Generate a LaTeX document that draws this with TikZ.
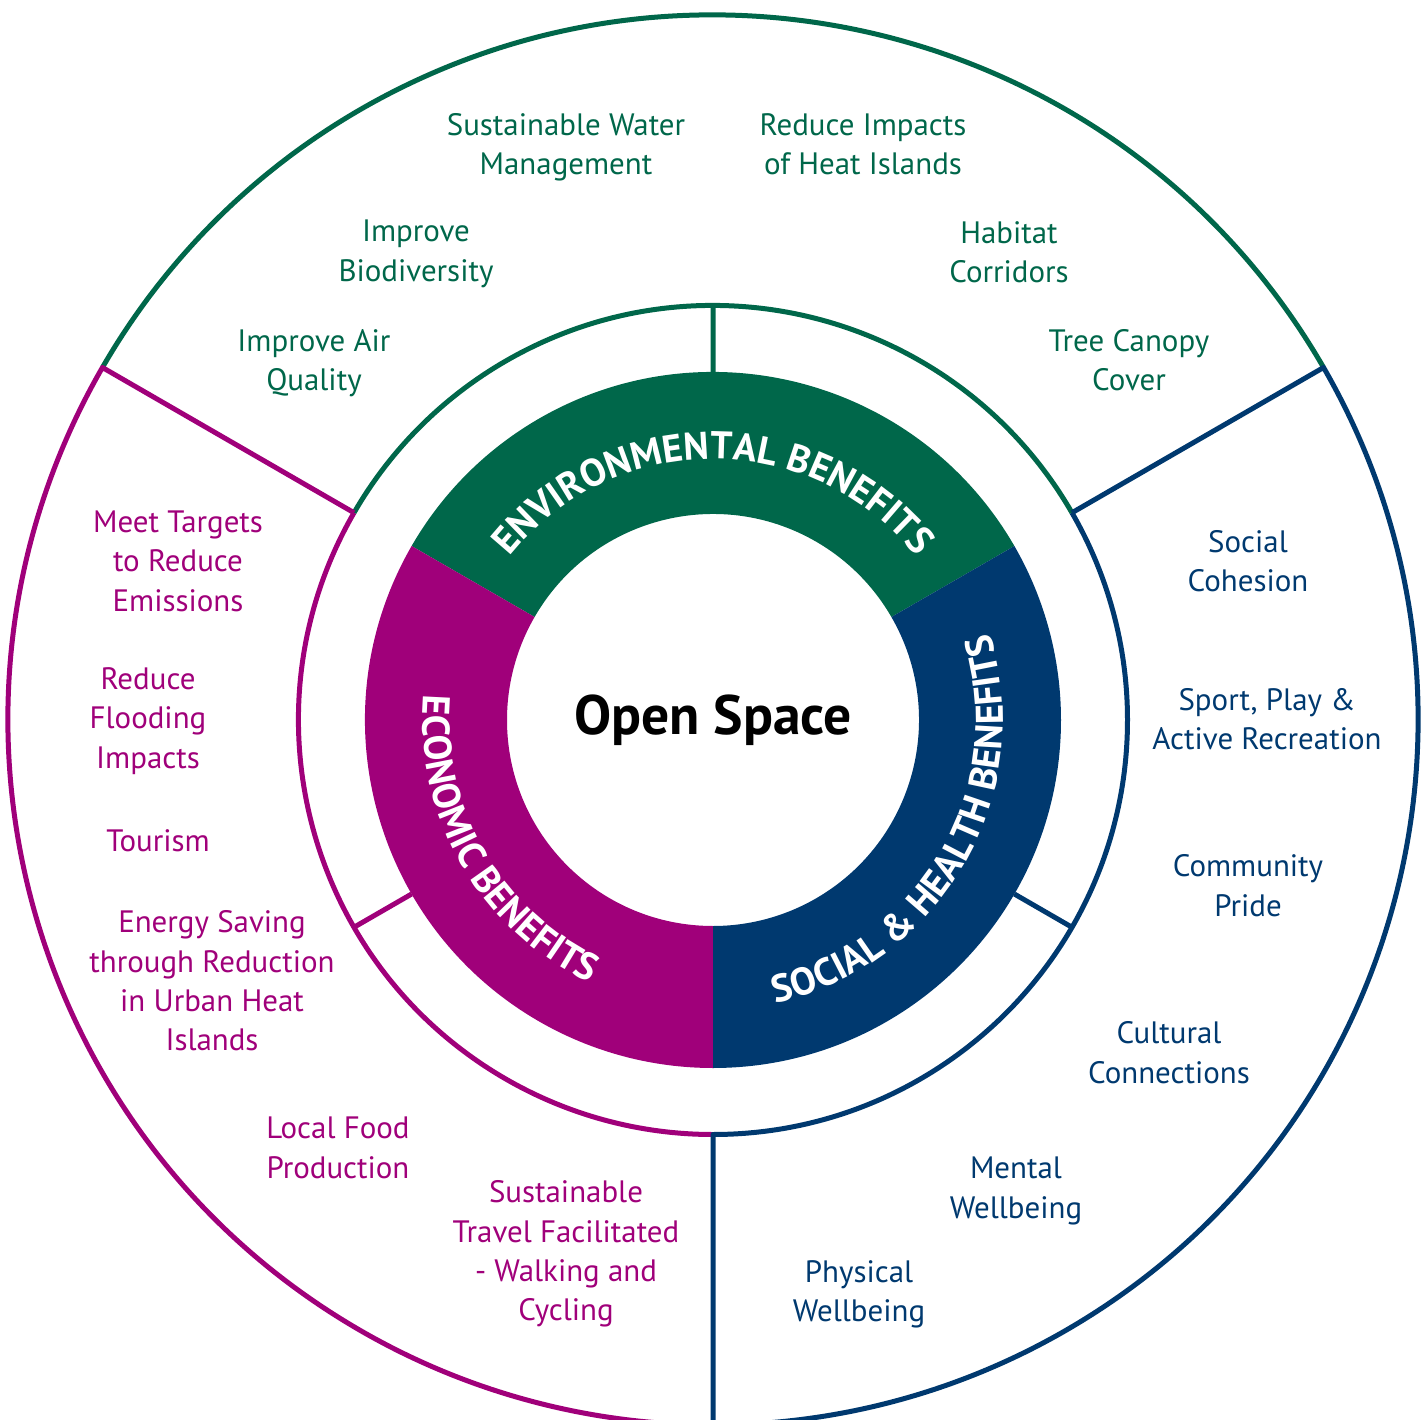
\documentclass[tikz,border=0pt]{standalone}
\usepackage{fontspec}
\setmainfont{PT Sans}
\usetikzlibrary{decorations.text}
\definecolor{envgreen}{HTML}{00674A}
\definecolor{ecomagenta}{HTML}{A0007A}
\definecolor{socblue}{HTML}{00396F}
\tikzset{
  ringline/.style ={line width=0.5mm, line join=round},
  benefit/.style  ={align=center, inner sep=0pt, font=\fontsize{8.8}{11.2}\selectfont},
  envtxt/.style   ={benefit, text=envgreen},
  ecotxt/.style   ={benefit, text=ecomagenta},
  soctxt/.style   ={benefit, text=socblue},
  ringlabel/.style={decorate, decoration={text along path, text align=center, text color=white}},
}
\newcommand{\ringfont}{\fontsize{11}{13}\selectfont\bfseries}

\begin{document}
\begin{tikzpicture}[x=0.1mm, y=0.1mm]
  \useasboundingbox (-713,-699) rectangle (715,720);
  % coloured ring, one sector per theme
  \foreach \a/\b/\col in {30/150/envgreen, 150/270/ecomagenta, -90/30/socblue}
    \fill[color=\col] (\a:348) arc[start angle=\a, end angle=\b, radius=348]
      -- (\b:206) arc[start angle=\b, end angle=\a, radius=206] -- cycle;

  % outer and middle circles with dividers
  \draw[ringline, envgreen] (30:705) arc[start angle=30, end angle=150, radius=705]
    (30:414.5) arc[start angle=30, end angle=150, radius=414.5]
    (90:348) -- (90:414.5);
  \draw[ringline, ecomagenta] (150:414.5) -- (150:705) arc[start angle=150, end angle=270, radius=705]
    (150:414.5) arc[start angle=150, end angle=270, radius=414.5]
    (210:348) -- (210:414.5);
  \draw[ringline, socblue] (30:414.5) -- (30:705) arc[start angle=30, end angle=-90, radius=705]
    -- (-90:414.5) arc[start angle=-90, end angle=30, radius=414.5]
    (-30:348) -- (-30:414.5);

  % ring titles
  \path[ringlabel, decoration={text={|\ringfont|ENVIRONMENTAL BENEFITS}}]
    (150:261) arc[start angle=150, end angle=30, radius=261];
  \path[ringlabel, decoration={text={|\ringfont|ECONOMIC BENEFITS}}]
    (150:290) arc[start angle=150, end angle=270, radius=290];
  \path[ringlabel, decoration={text={|\ringfont|SOCIAL {\&} HEALTH BENEFITS}}]
    (-90:290) arc[start angle=-90, end angle=30, radius=290];

  \node[font=\fontsize{15.8}{18}\selectfont\bfseries] (open) at (0,0) {Open Space};

  % environmental
  \node[envtxt] (water)   at (-147,573) {Sustainable Water\\Management};
  \node[envtxt] (heat)    at (150,576)  {Reduce Impacts\\of Heat Islands};
  \node[envtxt] (biodiv)  at (-297,466) {Improve\\Biodiversity};
  \node[envtxt] (habitat) at (296,468)  {Habitat\\Corridors};
  \node[envtxt] (air)     at (-399,357) {Improve Air\\Quality};
  \node[envtxt] (canopy)  at (416,360)  {Tree Canopy\\Cover};

  % economic
  \node[ecotxt] (targets)  at (-535,159)  {Meet Targets\\to Reduce\\Emissions};
  \node[ecotxt] (flooding) at (-565,-1)   {Reduce\\Flooding\\Impacts};
  \node[ecotxt] (tourism)  at (-555,-121) {Tourism};
  \node[ecotxt] (energy)   at (-501,-261) {Energy Saving\\through Reduction\\in Urban Heat\\Islands};
  \node[ecotxt] (food)     at (-375,-428) {Local Food\\Production};
  \node[ecotxt] (travel)   at (-147,-534) {Sustainable\\Travel Facilitated\\- Walking and\\Cycling};

  % social and health
  \node[soctxt] (cohesion) at (535,159)    {Social\\Cohesion};
  \node[soctxt] (sport)    at (554,1)      {Sport, Play \&\\Active Recreation};
  \node[soctxt] (pride)    at (535,-165.5) {Community\\Pride};
  \node[soctxt] (cultural) at (456,-332.5) {Cultural\\Connections};
  \node[soctxt] (mental)   at (303,-471)   {Mental\\Wellbeing};
  \node[soctxt] (physical) at (146,-574)   {Physical\\Wellbeing};
\end{tikzpicture}
\end{document}
